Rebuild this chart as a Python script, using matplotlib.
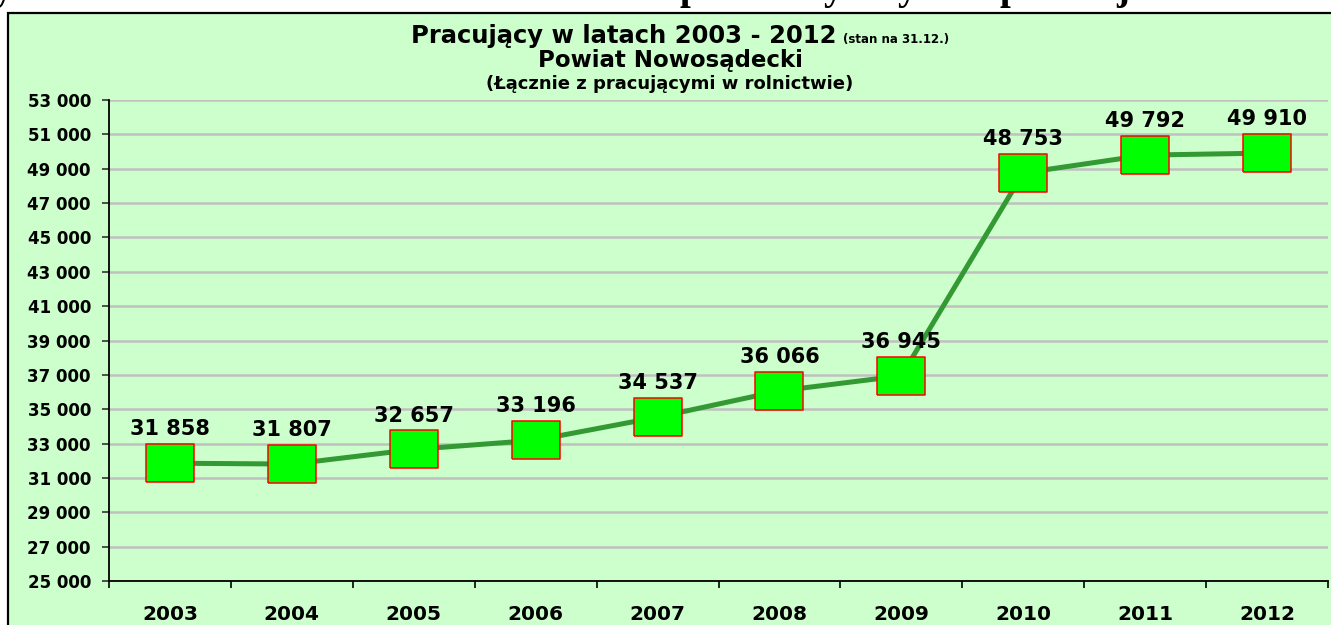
import matplotlib
matplotlib.use("Agg")
import matplotlib.pyplot as plt
import matplotlib.ticker as ticker
from matplotlib.patches import Rectangle
import numpy as np

plt.rcParams.update({
    "font.family": "DejaVu Sans", "font.weight": "bold",
})

# data
years = ["2003", "2004", "2005", "2006", "2007", "2008", "2009", "2010", "2011", "2012"]
workers = [31858, 31807, 32657, 33196, 34537, 36066, 36945, 48753, 49792, 49910]
y_ticks = list(range(25000, 53001, 2000))

# descender tails of a cut-off heading above the chart
top_chars = ["y", "p", "y", "y", "p", "j"]
top_char_x = [3, 690, 833, 907, 1010, 1123]

W, H = 1331, 625
BG = "#CCFFCC"


def fmt_thousands(v):
    return f"{int(v):,}".replace(",", " ")


fig = plt.figure(figsize=(W / 100, H / 100), dpi=100, facecolor="white")

# green chart frame (extends beyond right/bottom edges)
fig.patches.append(Rectangle((8 / W, -0.05), 1.1, (H - 13) / H + 0.05, transform=fig.transFigure,
                             facecolor=BG, edgecolor="black", lw=1.6, zorder=-5))

for ch, xp in zip(top_chars, top_char_x):
    fig.text(xp / W, 1 + 1.0 / H, ch, fontsize=28, family="Liberation Serif", weight="bold",
             ha="center", va="baseline", color="black")

ax = fig.add_axes([109 / W, 44 / H, (1328 - 109) / W, (581 - 100) / H], zorder=2)
ax.patch.set_visible(False)

x = np.arange(len(years))
rect = [(-1, -0.776), (1, -0.776), (1, 0.776), (-1, 0.776), (-1, -0.776)]
ax.plot(x, workers, color="#339933", lw=3.6, zorder=3, solid_capstyle="butt")
ax.plot(x, workers, ls="none", marker=rect, ms=35, mfc="#00FF00", mec="#FF0000", mew=1.1, zorder=4)

for xi, v in zip(x, workers):
    ax.annotate(fmt_thousands(v), (xi, v), xytext=(0, 20), textcoords="offset points",
                ha="center", va="baseline", fontsize=15, fontweight="bold", zorder=5)

ax.set_ylim(25000, 53000)
ax.set_yticks(y_ticks)
ax.yaxis.set_major_formatter(ticker.FuncFormatter(lambda v, p: fmt_thousands(v)))
ax.set_xlim(-0.5, len(years) - 0.5)
ax.set_xticks(x)
ax.set_xticklabels(years)
ax.set_xticks(np.arange(len(years) + 1) - 0.5, minor=True)

ax.grid(axis="y", color="#C0C0C0", lw=1.8, zorder=1)
ax.set_axisbelow(True)
for s in ("top", "right"):
    ax.spines[s].set_visible(False)
for s in ("left", "bottom"):
    ax.spines[s].set_linewidth(1.3)
    ax.spines[s].set_color("black")

ax.tick_params(axis="y", direction="out", length=5, width=1.2, pad=8, labelsize=12, colors="#333333",
               labelcolor="black")
ax.tick_params(axis="x", which="major", length=0, pad=17, labelsize=14.5)
ax.tick_params(axis="x", which="minor", direction="out", length=5, width=1.2, color="black")
for lab in ax.get_xticklabels() + ax.get_yticklabels():
    lab.set_fontweight("bold")

# titles
fig.text(837 / W, 1 - 43 / H, "Pracujący w latach 2003 - 2012", fontsize=17.5, weight="bold",
         ha="right", va="baseline")
fig.text(843 / W, 1 - 43 / H, "(stan na 31.12.)", fontsize=8.5, weight="bold",
         ha="left", va="baseline")
fig.text(670 / W, 1 - 67 / H, "Powiat Nowosądecki", fontsize=16.5, weight="bold",
         ha="center", va="baseline")
fig.text(670 / W, 1 - 89 / H, "(Łącznie z pracującymi w rolnictwie)", fontsize=13, weight="bold",
         ha="center", va="baseline")

fig.savefig("out.png", dpi=100, facecolor="white")
